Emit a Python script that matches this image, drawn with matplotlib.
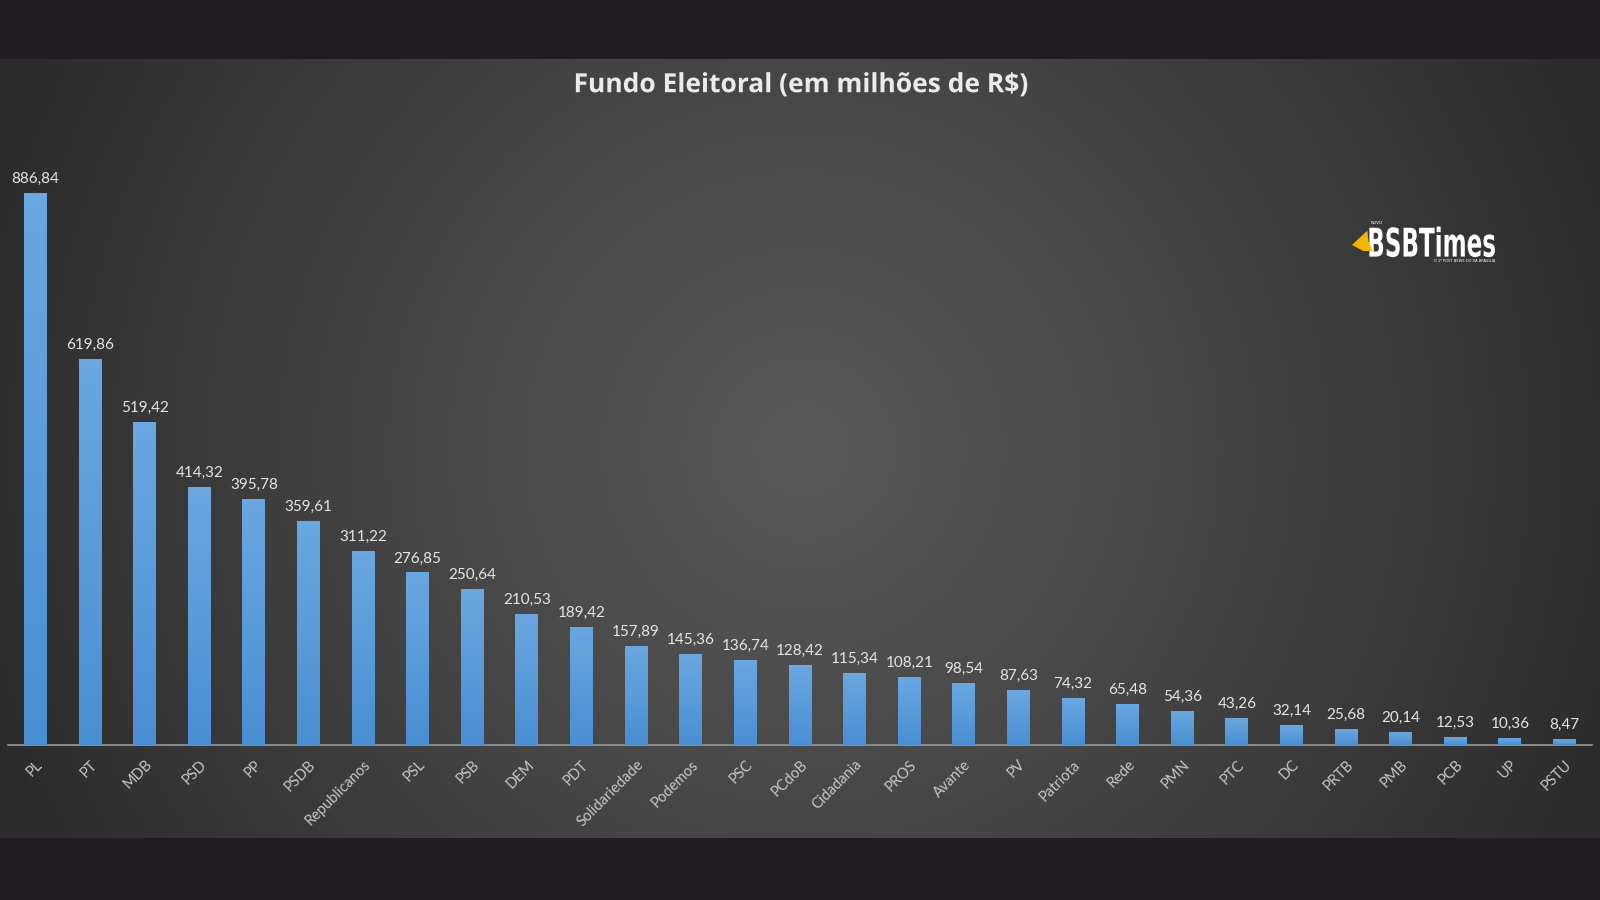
import numpy as np
import matplotlib
matplotlib.use("Agg")
import matplotlib.pyplot as plt
import matplotlib.patheffects as pe
from matplotlib.textpath import TextPath
from matplotlib.font_manager import FontProperties
from matplotlib.patches import PathPatch, Polygon
from matplotlib.transforms import Affine2D

partidos = ["PL", "PT", "MDB", "PSD", "PP", "PSDB", "Republicanos", "PSL", "PSB",
            "DEM", "PDT", "Solidariedade", "Podemos", "PSC", "PCdoB", "Cidadania",
            "PROS", "Avante", "PV", "Patriota", "Rede", "PMN", "PTC", "DC", "PRTB",
            "PMB", "PCB", "UP", "PSTU"]
valores = [886.84, 619.86, 519.42, 414.32, 395.78, 359.61, 311.22, 276.85, 250.64,
           210.53, 189.42, 157.89, 145.36, 136.74, 128.42, 115.34, 108.21, 98.54,
           87.63, 74.32, 65.48, 54.36, 43.26, 32.14, 25.68, 20.14, 12.53, 10.36, 8.47]
titulo = "Fundo Eleitoral (em milhões de R$)"

W, H = 1600, 900
RW, RH = 1568, 882   # coordenadas de referencia (pixels do original)
fig = plt.figure(figsize=(16, 9), dpi=100)

# fundo: faixas escuras + gradiente radial no painel
bg = fig.add_axes([0, 0, 1, 1])
yy, xx = np.mgrid[0:H, 0:W]
r = np.hypot(xx - 803, yy - 449) / 880.0
v = 0.345 - 0.18 * np.clip(r, 0, 1) ** 1.1
img = np.dstack([v, v, v])
dark = np.array([0x20, 0x1c, 0x22]) / 255
img[:int(H * 58 / RH)] = dark
img[int(H * 822 / RH):] = dark
bg.imshow(img, extent=[0, RW, RH, 0], aspect="auto")
bg.set_xlim(0, RW)
bg.set_ylim(RH, 0)
bg.set_axis_off()

ax = fig.add_axes([8 / RW, 1 - 730 / RH, 1552 / RW, (730 - 121) / RH])
ax.patch.set_alpha(0)
x = np.arange(len(partidos))
largura = 0.42
barras = ax.bar(x, valores, width=largura, color="#5b9bd5", zorder=2)

# gradiente vertical em cada barra
grad = np.linspace(0, 1, 64).reshape(-1, 1)
cmap = matplotlib.colors.LinearSegmentedColormap.from_list("b", ["#4a8fd2", "#6ba7e0"])
for b in barras:
    x0 = b.get_x()
    h = b.get_height()
    ax.imshow(grad, extent=[x0, x0 + largura, 0, h], origin="lower", aspect="auto",
              cmap=cmap, zorder=3)

label_font = ["Lato", "DejaVu Sans"]
for xi, val in zip(x, valores):
    ax.text(xi, val + 12, f"{val:.2f}".replace(".", ","), ha="center", va="bottom",
            fontsize=11, color="#e6e6e6", family=label_font)

ax.set_xlim(-0.5, len(partidos) - 0.5)
ax.set_ylim(0, 1000)
ax.set_yticks([])
ax.set_xticks(x)
ax.set_xticklabels(partidos, rotation=45, ha="right", rotation_mode="anchor",
                   fontsize=10.5, color="#c8c8c8", family=label_font)
ax.tick_params(axis="x", length=0, pad=9)
for s in ["top", "right", "left"]:
    ax.spines[s].set_visible(False)
ax.spines["bottom"].set_color("#9a9a9a")
ax.spines["bottom"].set_linewidth(1.2)

fig.text(0.5, 1 - 83 / RH, titulo, ha="center", va="center", fontsize=19,
         fontweight="bold", color="#ececec", family=["Open Sans", "DejaVu Sans"],
         path_effects=[pe.withSimplePatchShadow(offset=(1.5, -1.5), alpha=0.6)])

# logo BSBTimes (texto condensado em caminho)
tp = TextPath((0, 0), "BSBTimes", size=1,
              prop=FontProperties(family="DejaVu Sans", weight="bold"))
ext = tp.get_extents()
sx = 123 / ext.width
sy = 30 / ext.height
tr = Affine2D().translate(-ext.x0, -ext.y0).scale(sx, -sy).translate(1342, 252)
bg.add_patch(PathPatch(tr.transform_path(tp), facecolor="white", edgecolor="none"))
bg.text(1343, 219, "NOVO", ha="left", va="center", fontsize=3, color="white")
bg.text(1465, 256, "O 1º POST NEWS DO DA BRASÍLIA", ha="right", va="center",
        fontsize=2.6, color="white")
bg.add_patch(Polygon([[1325, 240], [1340, 226], [1341, 236], [1345, 246], [1336, 246]],
                     closed=True, facecolor="#f2b705", edgecolor="none"))

fig.savefig("out.png", dpi=100)
